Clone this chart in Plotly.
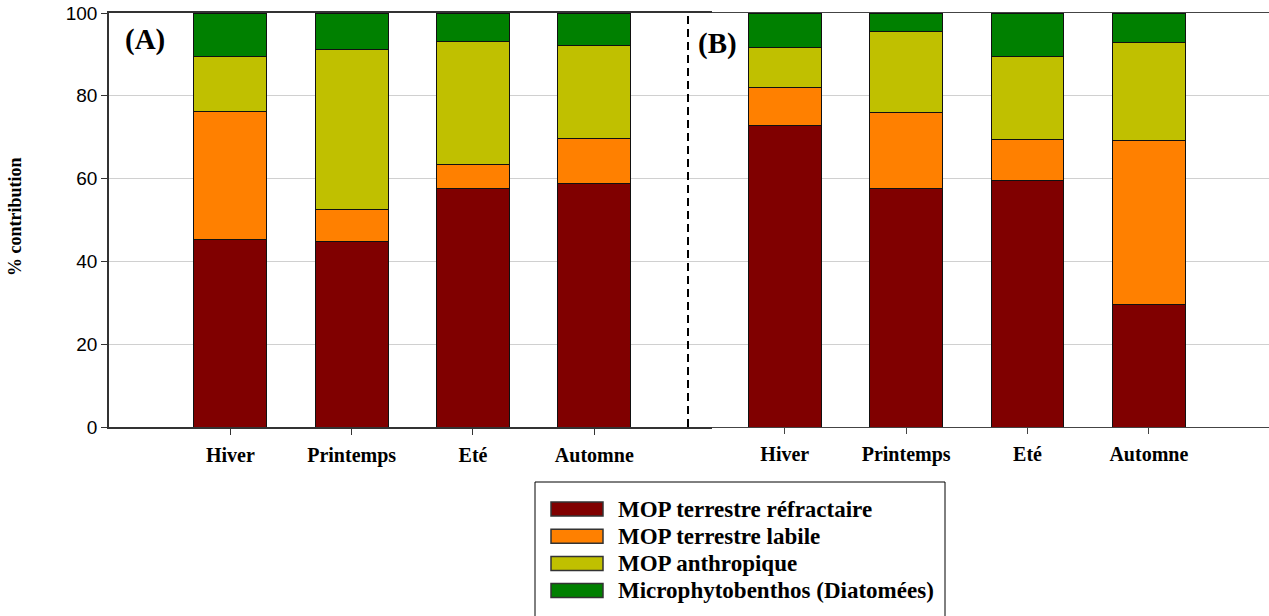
import plotly.graph_objects as go

# Seasons shown on both panels
seasons = ["Hiver", "Printemps", "Eté", "Automne"]

# Source names and their colours (bottom of the stack first)
series_names = [
    "MOP terrestre réfractaire",
    "MOP terrestre labile",
    "MOP anthropique",
    "Microphytobenthos (Diatomées)",
]
series_colors = ["#800000", "#FF8000", "#C0C000", "#008000"]

# Panel (A): % contribution per season
a_refractaire = [45.3, 44.7, 57.6, 58.9]
a_labile = [31.0, 7.9, 5.9, 10.9]
a_anthropique = [13.1, 38.5, 29.5, 22.4]
a_microphyto = [10.6, 8.9, 7.0, 7.8]

# Panel (B): % contribution per season
b_refractaire = [72.9, 57.7, 59.5, 29.6]
b_labile = [9.1, 18.3, 9.9, 39.6]
b_anthropique = [9.7, 19.5, 20.0, 23.6]
b_microphyto = [8.3, 4.5, 10.6, 7.2]

y_ticks = [0, 20, 40, 60, 80, 100]

W, H = 1269, 616
ML, MR, MT, MB = 109, 0, 13, 189
PW = W - ML - MR
PH = H - MT - MB

SERIF = "Liberation Serif"
SANS = "Liberation Sans"


def px_x(x):
    return (x - ML) / PW


def px_y(y):
    return (H - MB - y) / PH


fig = go.Figure()

panels = [
    ("x", [a_refractaire, a_labile, a_anthropique, a_microphyto]),
    ("x2", [b_refractaire, b_labile, b_anthropique, b_microphyto]),
]
for axis, stack in panels:
    for name, color, vals in zip(series_names, series_colors, stack):
        fig.add_trace(
            go.Bar(
                x=seasons,
                y=vals,
                name=name,
                xaxis=axis,
                yaxis="y",
                marker=dict(color=color, line=dict(color="#111111", width=1)),
                showlegend=False,
            )
        )

split = px_x(712)
xcommon = dict(
    type="category",
    showline=True,
    mirror=True,
    ticks="outside",
    ticklen=6,
    ticklabelstandoff=3,
    showgrid=False,
    zeroline=False,
    automargin=False,
    anchor="y",
    tickfont=dict(family=SERIF, size=20, color="black", weight="bold"),
)

fig.update_layout(
    width=W,
    height=H,
    margin=dict(l=ML, r=MR, t=MT, b=MB, autoexpand=False),
    paper_bgcolor="white",
    plot_bgcolor="white",
    barmode="stack",
    bargap=0.4,
    showlegend=False,
    xaxis=dict(
        domain=[0, split],
        range=[-1.0, 3.97],
        linecolor="#333333",
        linewidth=1.5,
        tickcolor="#333333",
        **xcommon,
    ),
    xaxis2=dict(
        domain=[split, 1],
        range=[-0.6, 3.99],
        linecolor="#444444",
        linewidth=1.2,
        tickcolor="#444444",
        **xcommon,
    ),
    yaxis=dict(
        range=[0, 100],
        tickvals=y_ticks,
        showline=True,
        linecolor="#333333",
        linewidth=1.5,
        ticks="outside",
        ticklen=6,
        tickcolor="#333333",
        showgrid=True,
        gridcolor="#D0D0D0",
        gridwidth=1,
        zeroline=False,
        automargin=False,
        tickfont=dict(family=SANS, size=19, color="black"),
    ),
)

shapes = [
    # dashed divider between the two panels
    dict(
        type="line", xref="paper", yref="paper",
        x0=px_x(688), x1=px_x(688), y0=0, y1=1,
        line=dict(color="black", width=2, dash="8px,5px"),
    ),
    # legend frame
    dict(
        type="rect", xref="paper", yref="paper",
        x0=px_x(535), x1=px_x(945), y0=px_y(482), y1=px_y(640),
        line=dict(color="black", width=1), fillcolor="white", layer="below",
    ),
]

annotations = [
    dict(
        text="% contribution", xref="paper", yref="paper",
        x=px_x(15), y=px_y(217), textangle=-90, showarrow=False,
        font=dict(family=SERIF, size=18, color="black", weight="bold"),
        xanchor="center", yanchor="middle",
    ),
    dict(
        text="(A)", xref="paper", yref="paper", x=px_x(145), y=px_y(40),
        showarrow=False, xanchor="center", yanchor="middle",
        font=dict(family=SERIF, size=29, color="black", weight="bold"),
    ),
    dict(
        text="(B)", xref="paper", yref="paper", x=px_x(717), y=px_y(43),
        showarrow=False, xanchor="center", yanchor="middle",
        font=dict(family=SERIF, size=29, color="black", weight="bold"),
    ),
]

# hand-built legend: wide swatches with bold labels
row_y0 = 509
row_step = 27.2
for i, (name, color) in enumerate(zip(series_names, series_colors)):
    yc = row_y0 + i * row_step
    shapes.append(
        dict(
            type="rect", xref="paper", yref="paper",
            x0=px_x(551), x1=px_x(603), y0=px_y(yc - 7), y1=px_y(yc + 7),
            line=dict(color="#333333", width=1.5), fillcolor=color,
        )
    )
    annotations.append(
        dict(
            text=name, xref="paper", yref="paper", x=px_x(616), y=px_y(yc),
            showarrow=False, xanchor="left", yanchor="middle",
            font=dict(family=SERIF, size=23, color="black", weight="bold"),
        )
    )

fig.update_layout(shapes=shapes, annotations=annotations)

fig.write_html("out.html")
